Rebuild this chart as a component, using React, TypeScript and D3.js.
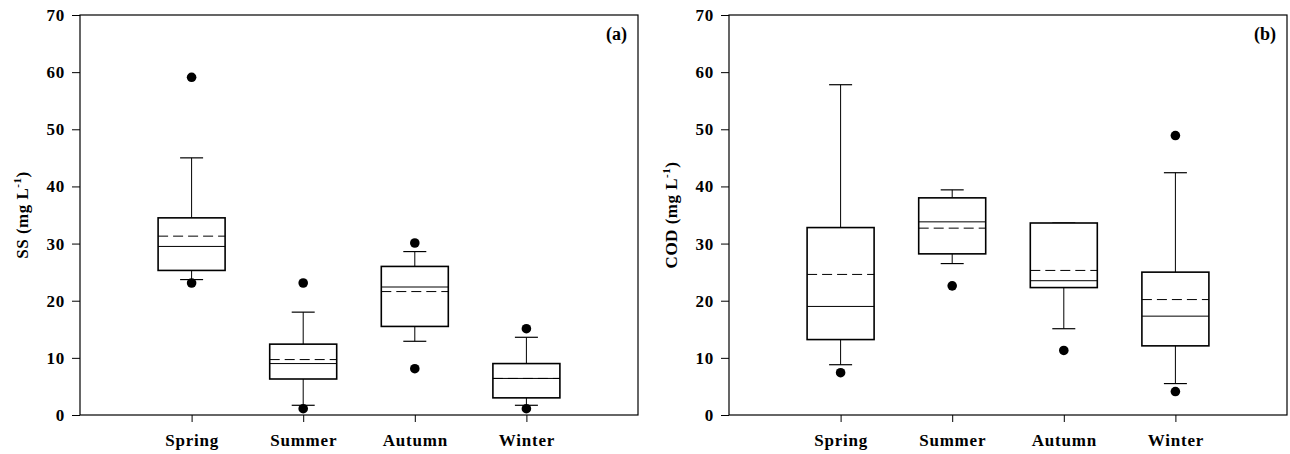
import { useRef, useEffect } from "react";
import * as d3 from "d3";

const seasons = ["Spring", "Summer", "Autumn", "Winter"];
const yTicks = [0, 10, 20, 30, 40, 50, 60, 70];

// [whiskerLow, q1, median, q3, whiskerHigh], mean, outliers
const ssBox = [
  [23.7, 25.3, 29.5, 34.5, 45.0],
  [1.7, 6.3, 9.0, 12.4, 18.0],
  [12.9, 15.5, 22.4, 26.0, 28.6],
  [1.7, 3.0, 6.4, 9.0, 13.6]
];
const ssMean = [31.3, 9.7, 21.6, 6.4];
const ssOutliers = [[59.1, 23.1], [23.1, 1.1], [30.1, 8.1], [15.1, 1.1]];

const codBox = [
  [8.8, 13.2, 19.0, 32.8, 57.8],
  [26.5, 28.2, 33.8, 38.0, 39.4],
  [15.1, 22.3, 23.5, 33.6, 33.6],
  [5.5, 12.1, 17.3, 25.0, 42.4]
];
const codMean = [24.6, 32.7, 25.3, 20.2];
const codOutliers = [[7.4], [22.6], [11.3], [48.9, 4.1]];

const FONT = "'Liberation Serif', 'Times New Roman', serif";

interface Panel {
  left: number;
  label: string;
  tag: string;
  box: number[][];
  mean: number[];
  outliers: number[][];
}

const panels: Panel[] = [
  { left: 80, label: "SS", tag: "(a)", box: ssBox, mean: ssMean, outliers: ssOutliers },
  { left: 729, label: "COD", tag: "(b)", box: codBox, mean: codMean, outliers: codOutliers }
];

export default function App() {
  const svgRef = useRef<SVGSVGElement>(null);

  useEffect(() => {
    const svg = d3.select(svgRef.current!);
    svg.selectAll("*").remove();

    const top = 15, bottom = 415, pw = 558;
    const boxW = 67, capW = 23;

    for (const p of panels) {
      const x = d3.scaleLinear().domain([0, 5]).range([p.left, p.left + pw]);
      const y = d3.scaleLinear().domain([0, 70]).range([bottom, top]);
      const g = svg.append("g");

      // frame
      g.append("rect")
        .attr("x", p.left).attr("y", top)
        .attr("width", pw).attr("height", bottom - top)
        .attr("fill", "none").attr("stroke", "#000").attr("stroke-width", 1.2);

      // y axis
      const ya = g.append("g")
        .attr("transform", `translate(${p.left},0)`)
        .call(d3.axisLeft(y).tickValues(yTicks).tickSize(8).tickPadding(7));
      ya.select(".domain").remove();
      ya.attr("font-size", null).attr("font-family", null);
      ya.selectAll("line").attr("stroke", "#000");
      ya.selectAll("text")
        .style("font-family", FONT).style("font-size", "17px").style("font-weight", "bold")
        .style("letter-spacing", "0.8px")
        .attr("fill", "#000");

      // x axis
      const xa = g.append("g")
        .attr("transform", `translate(0,${bottom})`)
        .call(d3.axisBottom(x).tickValues([1, 2, 3, 4]).tickSize(7).tickPadding(12)
          .tickFormat((d) => seasons[(d as number) - 1]));
      xa.select(".domain").remove();
      xa.attr("font-size", null).attr("font-family", null);
      xa.selectAll("line").attr("stroke", "#000");
      xa.selectAll("text")
        .style("font-family", FONT).style("font-size", "17px").style("font-weight", "bold")
        .style("letter-spacing", "0.8px")
        .attr("fill", "#000");

      // y title
      const title = g.append("text")
        .attr("transform", `translate(${p.left - 52},${(top + bottom) / 2}) rotate(-90)`)
        .attr("text-anchor", "middle")
        .style("font-family", FONT).style("font-size", "17px").style("font-weight", "bold")
        .style("letter-spacing", "0.5px");
      title.append("tspan").text(`${p.label} (mg L`);
      title.append("tspan").style("font-size", "11px").attr("dy", -7).text("-1");
      title.append("tspan").attr("dy", 7).text(")");

      // panel tag
      g.append("text")
        .attr("x", p.left + pw - 11).attr("y", top + 25)
        .attr("text-anchor", "end")
        .style("font-family", FONT).style("font-size", "18px").style("font-weight", "bold")
        .text(p.tag);

      p.box.forEach((b, i) => {
        const cx = x(i + 1);
        const [lo, q1, med, q3, hi] = b;
        const line = (x1: number, y1: number, x2: number, y2: number, w = 1) =>
          g.append("line")
            .attr("x1", x1).attr("y1", y1).attr("x2", x2).attr("y2", y2)
            .attr("stroke", "#000").attr("stroke-width", w);

        // whiskers
        line(cx, y(q3), cx, y(hi));
        line(cx, y(q1), cx, y(lo));
        line(cx - capW / 2, y(hi), cx + capW / 2, y(hi), 1.2);
        line(cx - capW / 2, y(lo), cx + capW / 2, y(lo), 1.2);

        // box
        g.append("rect")
          .attr("x", cx - boxW / 2).attr("y", y(q3))
          .attr("width", boxW).attr("height", y(q1) - y(q3))
          .attr("fill", "#fff").attr("stroke", "#000").attr("stroke-width", 1.6);

        // median
        line(cx - boxW / 2, y(med), cx + boxW / 2, y(med));
        // mean (dashed)
        line(cx - boxW / 2, y(p.mean[i]), cx + boxW / 2, y(p.mean[i]))
          .attr("stroke-dasharray", "10,5");

        // outliers
        for (const o of p.outliers[i]) {
          g.append("circle")
            .attr("cx", cx).attr("cy", y(o)).attr("r", 4.8).attr("fill", "#000");
        }
      });
    }
  }, []);

  return (
    <div style={{ position: "absolute", left: 0, top: 0 }}>
      <svg ref={svgRef} width={1290} height={454} style={{ display: "block", background: "#fff" }} />
    </div>
  );
}
